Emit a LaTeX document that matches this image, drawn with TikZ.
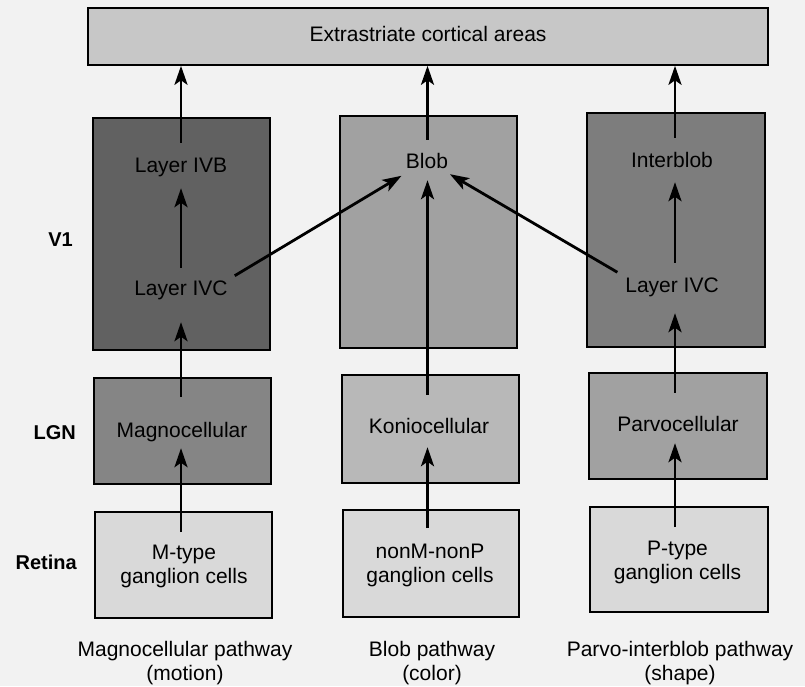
\documentclass[tikz,border=0pt]{standalone}
\usepackage{fontspec}
\setmainfont{Liberation Sans}
\usetikzlibrary{arrows.meta}
\definecolor{bgc}{gray}{0.95}
\definecolor{topc}{gray}{0.78}
\definecolor{vleft}{gray}{0.38}
\definecolor{vmid}{gray}{0.63}
\definecolor{vright}{gray}{0.49}
\definecolor{gleft}{gray}{0.52}
\definecolor{gmid}{gray}{0.72}
\definecolor{gright}{gray}{0.63}
\definecolor{retc}{gray}{0.85}
\begin{document}
\begin{tikzpicture}[x=1pt,y=-1pt,
  txt/.style={font=\fontsize{21}{23}\selectfont, inner sep=0pt, text height=15pt, text depth=5pt, anchor=base},
  txttwo/.style={font=\fontsize{21}{23.5}\selectfont, inner sep=0pt, align=center, anchor=north},
  side/.style={font=\fontsize{20}{23}\selectfont\bfseries, inner sep=0pt, anchor=base east},
  captxt/.style={font=\fontsize{21}{24}\selectfont, inner sep=0pt, align=center, anchor=north},
  box/.style={draw=black, line width=1.6pt},
  arr/.style={line width=2.8pt, -{Stealth[length=19pt,width=13pt,inset=4.5pt]}},
]
% background / bounding box
\fill[bgc] (0,0) rectangle (805,686);
\useasboundingbox (0,0) rectangle (805,686);

% column coordinates
\coordinate (cL) at (181,0);
\coordinate (cM) at (427.5,0);
\coordinate (cR) at (675,0);

% top box
\node[box, fill=topc, minimum width=680pt, minimum height=57pt, inner sep=0pt,
      font=\fontsize{21}{23}\selectfont, text height=15pt, text depth=5pt] (extra) at (428,36.5) {Extrastriate cortical areas};

% V1 boxes
\draw[box, fill=vleft]  (93,118) rectangle (270,350);
\draw[box, fill=vmid]   (340,116) rectangle (517,348);
\draw[box, fill=vright] (587,113) rectangle (765,347);
% LGN boxes
\draw[box, fill=gleft]  (94,378) rectangle (271,484);
\draw[box, fill=gmid]   (342,375) rectangle (519,483);
\draw[box, fill=gright] (589,373) rectangle (767,479);
% Retina boxes
\draw[box, fill=retc] (95,512) rectangle (272,618);
\draw[box, fill=retc] (343,510) rectangle (519,617);
\draw[box, fill=retc] (590,507) rectangle (768,612);

% texts
\node[txt] (ivbL) at (181,172) {Layer IVB};
\node[txt] (ivcL) at (181,295) {Layer IVC};
\node[txt] (blob) at (427,168) {Blob};
\node[txt] (inter) at (672,167) {Interblob};
\node[txt] (ivcR) at (672,292) {Layer IVC};
\node[txt] (magno) at (182,437) {Magnocellular};
\node[txt] (konio) at (429,433) {Koniocellular};
\node[txt] (parvo) at (678,431) {Parvocellular};
\node[txttwo] (mt) at (184,545) {M-type\\ganglion cells};
\node[txttwo] (nn) at (430,544) {nonM-nonP\\ganglion cells};
\node[txttwo] (pt) at (677.5,541) {P-type\\ganglion cells};

% side labels
\node[side] (lvone) at (73,246) {V1};
\node[side] (llgn) at (76,439) {LGN};
\node[side] (lret) at (77,569) {Retina};

% captions
\node[captxt] (capL) at (185,641) {Magnocellular pathway\\(motion)};
\node[captxt] (capM) at (432,641) {Blob pathway\\(color)};
\node[captxt] (capR) at (680,641) {Parvo-interblob pathway\\(shape)};

% left column arrows
\draw[arr, shorten <=13pt, shorten >=6pt] (cL |- mt.north) -- (cL |- magno.south);
\draw[arr, shorten <=25pt, shorten >=22pt] (cL |- magno.north) -- (cL |- ivcL.south);
\draw[arr, shorten <=12pt, shorten >=11pt] (cL |- ivcL.north) -- (cL |- ivbL.south);
\draw[arr, shorten <=14pt] (cL |- ivbL.north) -- (cL |- extra.south);
% middle column arrows
\draw[arr, shorten <=16pt, shorten >=9pt] (cM |- nn.north) -- (cM |- konio.south);
\draw[arr, shorten <=23pt, shorten >=7pt] (cM |- konio.north) -- (cM |- blob.south);
\draw[arr, shorten <=13pt] (cM |- blob.north) -- (cM |- extra.south);
% right column arrows
\draw[arr, shorten <=14pt, shorten >=7pt] (cR |- pt.north) -- (cR |- parvo.south);
\draw[arr, shorten <=23pt, shorten >=16pt] (cR |- parvo.north) -- (cR |- ivcR.south);
\draw[arr, shorten <=14pt, shorten >=10pt] (cR |- ivcR.north) -- (cR |- inter.south);
\draw[arr, shorten <=14pt] (cR |- inter.north) -- (cR |- extra.south);
% diagonal arrows into Blob
\draw[arr, shorten <=8pt, shorten >=5pt] (ivcL.north east) -- (blob.south west);
\draw[arr, shorten <=9pt, shorten >=2pt] (ivcR.north west) -- (blob.south east);
\end{tikzpicture}
\end{document}
